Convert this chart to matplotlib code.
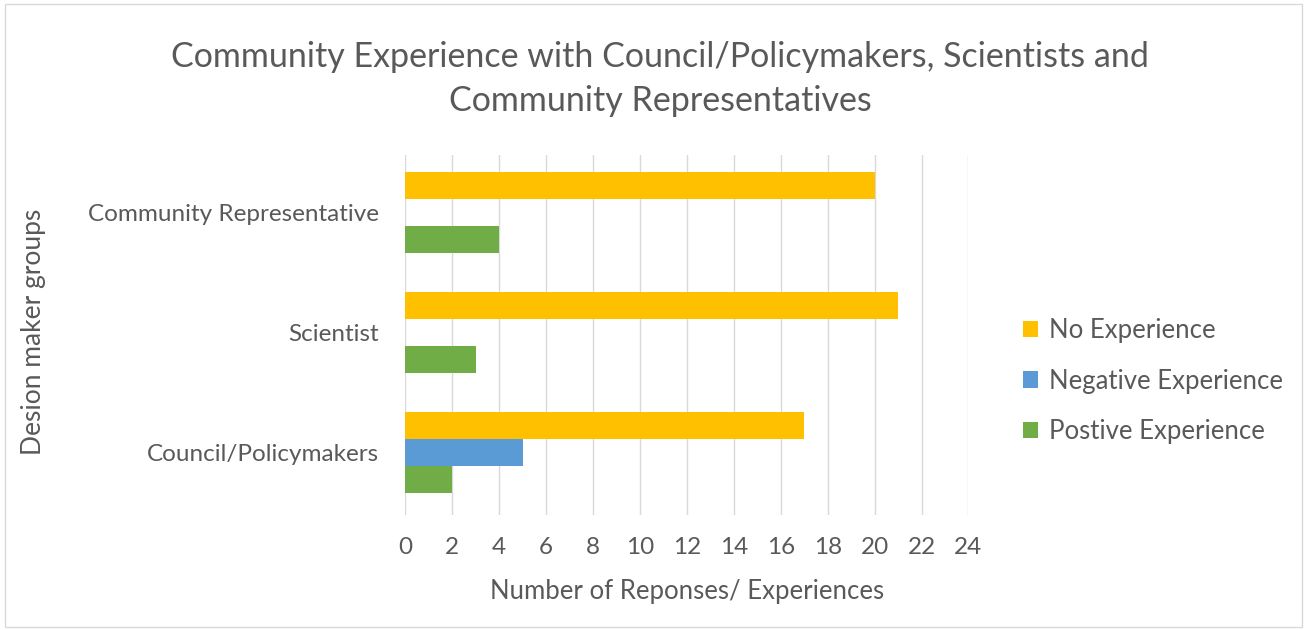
import numpy as np
import matplotlib.pyplot as plt
from matplotlib.patches import Rectangle

plt.rcParams["font.family"] = ["Lato", "DejaVu Sans"]

groups = ["Council/Policymakers", "Scientist", "Community Representative"]
series = ["Postive Experience", "Negative Experience", "No Experience"]
positive = [2, 3, 4]
negative = [5, 0, 0]
no_exp = [17, 21, 20]
colors = {"No Experience": "#FFC000", "Negative Experience": "#5B9BD5",
          "Postive Experience": "#70AD47"}

text_color = "#595959"

fig = plt.figure(figsize=(13.07, 6.30), dpi=100)
fig.patches.append(Rectangle((0.004, 0.004), 0.992, 0.99, transform=fig.transFigure,
                             fill=False, edgecolor="#D9D9D9", linewidth=1))
ax = fig.add_axes([0.31, 0.183, 0.431, 0.571])

y = np.arange(len(groups))
h = 0.23
off = 0.225
vals = {"Postive Experience": positive, "Negative Experience": negative,
        "No Experience": no_exp}
offsets = {"Postive Experience": -off, "Negative Experience": 0.0,
           "No Experience": off}
for s in series:
    ax.barh(y + offsets[s], vals[s], height=h, color=colors[s], label=s, zorder=3)

ax.set_xlim(0, 24)
ax.set_ylim(-0.52, 2.48)
ax.set_xticks(range(0, 25, 2))
ax.set_yticks(y)
ax.set_yticklabels(groups)
ax.grid(axis="x", color="#D9D9D9", linewidth=1, zorder=0)
for sp in ax.spines.values():
    sp.set_visible(False)
ax.tick_params(length=0, labelsize=17.5, colors=text_color)
ax.tick_params(axis="x", pad=16)
ax.tick_params(axis="y", pad=19)

ax.set_xlabel("Number of Reponses/ Experiences", fontsize=18.5, color=text_color, labelpad=15)
fig.text(0.026, 0.473, "Desion maker groups", rotation=90, fontsize=19,
         color=text_color, ha="center", va="center")
fig.text(0.505, 0.875, "Community Experience with Council/Policymakers, Scientists and\nCommunity Representatives",
         fontsize=24.5, color=text_color, ha="center", va="center", linespacing=1.45)

handles, labels = ax.get_legend_handles_labels()
order = [2, 1, 0]
leg = fig.legend([handles[i] for i in order], [labels[i] for i in order],
                 loc="center left", bbox_to_anchor=(0.765, 0.395), frameon=False,
                 fontsize=18.5, handlelength=0.6, handleheight=0.6, labelspacing=1.0,
                 handletextpad=0.4)
for t in leg.get_texts():
    t.set_color(text_color)

plt.savefig("out.png", dpi=100)
